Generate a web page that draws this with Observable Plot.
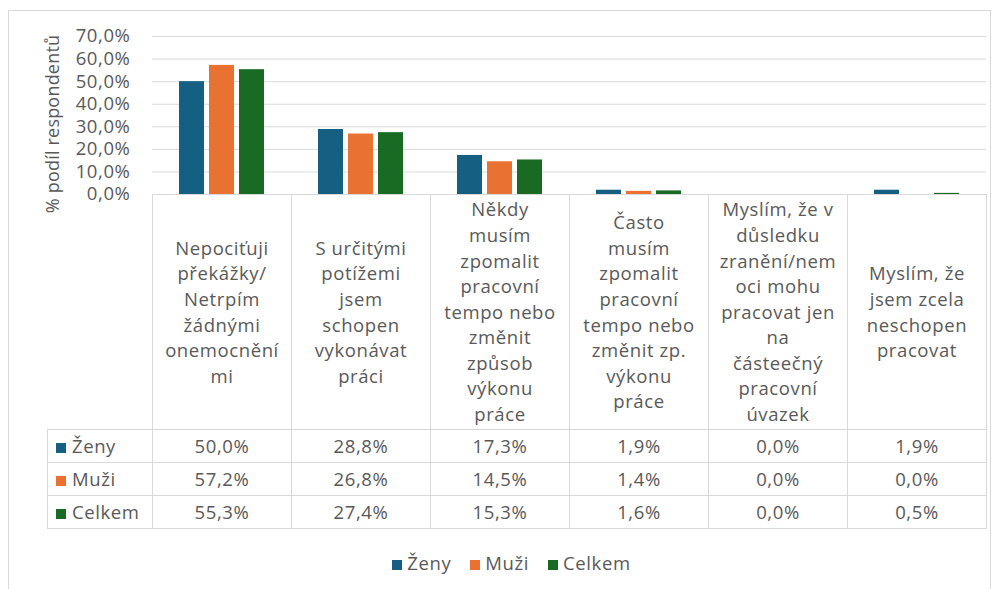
<!DOCTYPE html>
<html><head><meta charset="utf-8">
<script src="https://cdn.jsdelivr.net/npm/d3@7"></script>
<script src="https://cdn.jsdelivr.net/npm/@observablehq/plot@0.6"></script>
<style>
html,body{margin:0;padding:0;background:#fff;}
body{width:998px;height:589px;position:relative;overflow:hidden;font-family:"Open Sans",sans-serif;color:#595959;}
#frame{position:absolute;left:8px;top:10px;width:983px;height:600px;border:1px solid #d9d9d9;box-sizing:border-box;}
#chart{position:absolute;left:0;top:0;}
#ytitle{position:absolute;left:52px;top:124px;transform:translate(-50%,-50%) rotate(-90deg);white-space:nowrap;font-size:18px;letter-spacing:0.2px;color:#595959;line-height:20px;}
#tbl{position:absolute;left:47px;top:194px;border-collapse:collapse;table-layout:fixed;font-size:18.5px;letter-spacing:0.6px;color:#595959;}
#tbl td{border:1px solid #d9d9d9;text-align:center;padding:0;height:32px;line-height:20px;white-space:nowrap;}
#tbl tr.lab td{height:235px;line-height:25.6px;vertical-align:middle;border-top:none;}
#tbl tr.lab td.empty{border:none;}
#tbl td.rowlab{text-align:left;padding-left:8px;}
.sw{display:inline-block;width:10px;height:10px;margin-right:6px;vertical-align:0px;}
#legend{position:absolute;top:550px;left:0;width:1023px;display:flex;justify-content:center;gap:19px;font-size:18.5px;letter-spacing:0.6px;color:#595959;}
#legend span.item{white-space:nowrap;}
</style>
</head><body>
<div id="frame"></div>
<div id="chart"></div>
<table id="tbl"></table>
<div id="ytitle"></div>
<div id="legend"></div>
<script>
const categories = [
  "Nepociťuji\npřekážky/\nNetrpím\nžádnými\nonemocnění\nmi",
  "S určitými\npotížemi\njsem\nschopen\nvykonávat\npráci",
  "Někdy\nmusím\nzpomalit\npracovní\ntempo nebo\nzměnit\nzpůsob\nvýkonu\npráce",
  "Často\nmusím\nzpomalit\npracovní\ntempo nebo\nzměnit zp.\nvýkonu\npráce",
  "Myslím, že v\ndůsledku\nzranění/nem\noci mohu\npracovat jen\nna\nčásteečný\npracovní\núvazek",
  "Myslím, že\njsem zcela\nneschopen\npracovat"
];
const series = ["Ženy", "Muži", "Celkem"];
const colors = ["#156082", "#E97132", "#196B24"];
const zeny   = [0.500, 0.288, 0.173, 0.019, 0.000, 0.019];
const muzi   = [0.572, 0.268, 0.145, 0.014, 0.000, 0.000];
const celkem = [0.553, 0.274, 0.153, 0.016, 0.000, 0.005];
const yTicks = [0, 0.1, 0.2, 0.3, 0.4, 0.5, 0.6, 0.7];
const yLabel = "% podíl respondentů";

const values = [zeny, muzi, celkem];
const rows = categories.flatMap((c, i) => series.map((s, j) => ({cat: c, series: s, value: values[j][i]})));
const fmt = d3.formatLocale({decimal: ",", thousands: " ", grouping: [3], currency: ["", " Kč"]}).format(".1%");

const chart = Plot.plot({
  width: 998,
  height: 212,
  marginTop: 36,
  marginBottom: 18,
  marginLeft: 152,
  marginRight: 12,
  style: {fontFamily: "Open Sans, sans-serif", fontSize: "18.5px", letterSpacing: "0.6px", color: "#595959", background: "transparent", overflow: "visible"},
  fx: {domain: categories, padding: 0, axis: null},
  x: {domain: series, paddingInner: 0.18, paddingOuter: 0.87, axis: null},
  y: {domain: [0, 0.7]},
  color: {domain: series, range: colors},
  marks: [
    Plot.gridY(yTicks, {stroke: "#d9d9d9", strokeOpacity: 1}),
    Plot.ruleY([0], {stroke: "#d9d9d9"}),
    Plot.barY(rows, {fx: "cat", x: "series", y: "value", fill: "series"}),
    Plot.axisY(yTicks, {tickFormat: fmt, tickSize: 0, tickPadding: 22, label: null, fontSize: 18.5})
  ]
});
document.getElementById("chart").appendChild(chart);
document.getElementById("ytitle").textContent = yLabel;

const fx = chart.scale("fx");
const colW = fx.bandwidth;
const leftW = fx.range[0] - 47;
const tbl = document.getElementById("tbl");
let html = `<colgroup><col style="width:${leftW}px">` + categories.map(() => `<col style="width:${colW}px">`).join("") + `</colgroup>`;
html += `<tr class="lab"><td class="empty"></td>` + categories.map(c => `<td>${c.split("\n").join("<br>")}</td>`).join("") + `</tr>`;
series.forEach((s, j) => {
  html += `<tr><td class="rowlab"><span class="sw" style="background:${colors[j]}"></span>${s}</td>` +
    values[j].map(v => `<td>${fmt(v)}</td>`).join("") + `</tr>`;
});
tbl.innerHTML = html;

document.getElementById("legend").innerHTML = series.map((s, j) =>
  `<span class="item"><span class="sw" style="background:${colors[j]};margin-right:5px"></span>${s}</span>`).join("");
</script>
</body></html>
